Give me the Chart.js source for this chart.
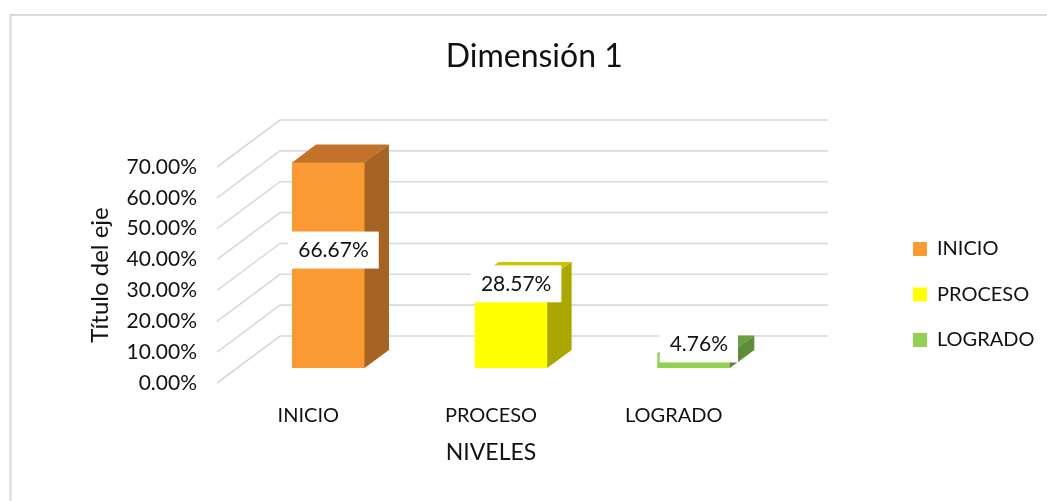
<!DOCTYPE html>
<html>
<head>
<meta charset="utf-8">
<script src="https://cdn.jsdelivr.net/npm/chart.js@4.4.1/dist/chart.umd.min.js"></script>
<style>
  html, body { margin: 0; padding: 0; background: #fff; }
  #wrap { width: 1047px; height: 501px; }
</style>
</head>
<body>
<div id="wrap"><canvas id="dim1" width="1047" height="501"></canvas></div>
<script>
// data
const niveles = ['INICIO', 'PROCESO', 'LOGRADO'];
const porcentajes = [0.6667, 0.2857, 0.0476];

// colours: front face, right side, top
const colorFront = ['#FB9A33', '#FFFF00', '#92D050'];
const colorSide = ['#A66322', '#A9A700', '#5E8C3A'];
const colorTop = ['#C2722A', '#C9C600', '#6C9E44'];

Chart.defaults.font.family = 'Lato, sans-serif';
Chart.defaults.color = '#111';

// fake 3d: depth of the floor in px and where the bars sit inside it
const DX = 63, DY = 47;
const BAR_OFF = 0.32, BAR_DEPTH = 0.38;

const pct = v => (v * 100).toFixed(2) + '%';

// legend width so the chart area ends where the excel one does
const m = document.createElement('canvas').getContext('2d');
m.font = '20px Lato';
const legTextW = Math.max(...niveles.map(n => m.measureText(n).width));
const legPad = 25.5;
const legW = legPad + 14 + 10 + legTextW + 10;
const gapR = 122.5;
const padRight = Math.max(0, 1047 - 765 - gapR - legW);

const frame = {
    id: 'frame',
    beforeDraw(chart) {
        const ctx = chart.ctx;
        ctx.save();
        ctx.fillStyle = '#fff';
        ctx.fillRect(0, 0, chart.width, chart.height);
        ctx.strokeStyle = '#dadada';
        ctx.lineWidth = 2;
        ctx.beginPath();
        ctx.moveTo(10.5, chart.height);
        ctx.lineTo(10.5, 15);
        ctx.lineTo(chart.width, 15);
        ctx.stroke();
        ctx.restore();
    }
};

const depth3d = {
    id: 'depth3d',
    beforeDatasetsDraw(chart) {
        // back wall grid + slanted side lines
        const {ctx, chartArea: a, scales: {y}} = chart;
        ctx.save();
        ctx.strokeStyle = '#d9d9d9';
        ctx.lineWidth = 1.6;
        y.ticks.forEach(t => {
            const py = y.getPixelForValue(t.value);
            ctx.beginPath();
            ctx.moveTo(a.left, py);
            ctx.lineTo(a.left + DX, py - DY);
            ctx.lineTo(a.right + DX, py - DY);
            ctx.stroke();
        });
        ctx.restore();
    },
    beforeDatasetDraw(chart) {
        chart.ctx.save();
        chart.ctx.translate(DX * BAR_OFF, -DY * BAR_OFF);
    },
    afterDatasetDraw(chart, args) {
        const ctx = chart.ctx;
        const dx = DX * BAR_DEPTH, dy = DY * BAR_DEPTH;
        args.meta.data.forEach((bar, i) => {
            const {x, y, base, width} = bar.getProps(['x', 'y', 'base', 'width'], true);
            const l = x - width / 2, r = x + width / 2;
            ctx.fillStyle = colorSide[i];
            ctx.beginPath();
            ctx.moveTo(r - 0.5, y);
            ctx.lineTo(r + dx, y - dy);
            ctx.lineTo(r + dx, base - dy);
            ctx.lineTo(r - 0.5, base);
            ctx.closePath();
            ctx.fill();
            ctx.fillStyle = colorTop[i];
            ctx.beginPath();
            ctx.moveTo(l, y + 0.5);
            ctx.lineTo(r - 0.5, y + 0.5);
            ctx.lineTo(r + dx, y - dy);
            ctx.lineTo(l + dx, y - dy);
            ctx.closePath();
            ctx.fill();
        });
        ctx.restore();
    },
    afterDatasetsDraw(chart) {
        // value labels in white boxes
        const ctx = chart.ctx;
        const ox = DX * BAR_OFF, oy = DY * BAR_OFF;
        const vals = chart.data.datasets[0].data;
        ctx.save();
        ctx.font = '21px Lato';
        ctx.textAlign = 'center';
        ctx.textBaseline = 'middle';
        chart.getDatasetMeta(0).data.forEach((bar, i) => {
            const {x, y, base} = bar.getProps(['x', 'y', 'base'], true);
            const top = y - oy, bot = base - oy;
            const cx = x + ox + 5;
            const cy = bot - top > 120 ? (top + bot) / 2 - oy : Math.min(top + 4, bot - 24);
            const txt = pct(vals[i]);
            const w = ctx.measureText(txt).width + 20, h = 37;
            ctx.fillStyle = '#fff';
            ctx.fillRect(cx - w / 2, cy - h / 2, w, h);
            ctx.fillStyle = '#111';
            ctx.fillText(txt, cx, cy);
        });
        ctx.restore();
    }
};

new Chart(document.getElementById('dim1'), {
    type: 'bar',
    data: {
        labels: niveles,
        datasets: [{
            label: 'Dimensión 1',
            data: porcentajes,
            backgroundColor: colorFront,
            borderWidth: 0,
            categoryPercentage: 1,
            barPercentage: 0.4,
            clip: false
        }]
    },
    options: {
        responsive: false,
        animation: false,
        events: [],
        layout: { padding: { top: 0, left: 24, bottom: 0, right: padRight } },
        plugins: {
            tooltip: { enabled: false },
            title: {
                display: true,
                text: 'Dimensión 1',
                font: { size: 32, weight: 'normal' },
                padding: { top: 37.4, bottom: 91.2 }
            },
            legend: {
                position: 'right',
                fullSize: false,
                title: { display: true, text: ' ', font: { size: 10 }, padding: 13.5 },
                labels: {
                    boxWidth: 14,
                    boxHeight: 14,
                    padding: legPad,
                    font: { size: 20 },
                    generateLabels: chart => chart.data.labels.map((l, i) => ({
                        text: l,
                        fillStyle: colorFront[i],
                        strokeStyle: colorFront[i],
                        lineWidth: 0,
                        hidden: false,
                        index: i
                    }))
                }
            }
        },
        scales: {
            x: {
                grid: { display: false, drawTicks: false },
                border: { display: false },
                ticks: { font: { size: 20 }, padding: 20.6, maxRotation: 0, autoSkip: false },
                title: { display: true, text: 'NIVELES', font: { size: 23 }, padding: { top: 0, bottom: 34.4 } },
                afterFit: s => { s.height = 118; }
            },
            y: {
                min: 0,
                max: 0.7,
                grid: { display: false, drawTicks: false },
                border: { display: false },
                ticks: { stepSize: 0.1, callback: v => pct(v), font: { size: 21 }, padding: 20 },
                title: { display: true, text: 'Título del eje', font: { size: 24 }, padding: { top: 61.6, bottom: 0 } },
                afterFit: s => { s.width = 193; }
            },
            // empty axis, only keeps the gap between plot and legend
            yR: {
                type: 'linear',
                position: 'right',
                grid: { display: false, drawTicks: false },
                border: { display: false },
                ticks: { display: false },
                afterFit: s => { s.width = gapR; }
            }
        }
    },
    plugins: [frame, depth3d]
});
</script>
</body>
</html>
